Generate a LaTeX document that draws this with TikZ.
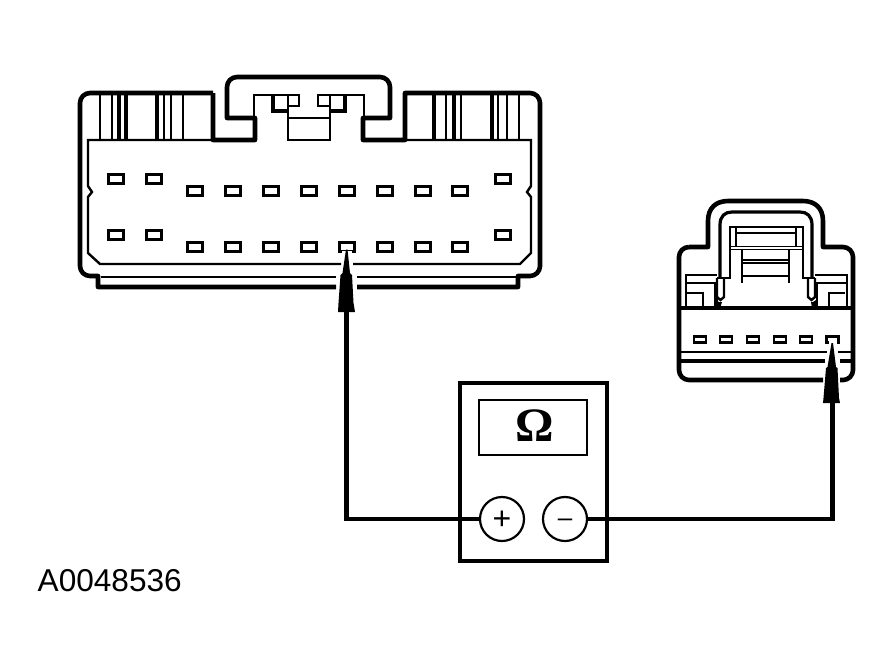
\documentclass[tikz,border=0pt]{standalone}
\usepackage{fontspec}
\setmainfont{Liberation Sans}
\newfontfamily\omegafont{Liberation Serif}
\tikzset{
  heavy/.style={line width=4.6pt,line join=round},
  medium/.style={line width=3.2pt},
  thin/.style={line width=2.4pt},
  hair/.style={line width=1.7pt},
  pinbox/.style={draw,line width=3pt,rectangle,minimum width=15.5pt,minimum height=9.5pt,inner sep=0pt,fill=white},
  tinypin/.style={draw,line width=2.6pt,rectangle,minimum width=12pt,minimum height=5.5pt,inner sep=0pt,fill=white},
  wire/.style={line width=4.4pt},
  probe/.style={fill=black,draw=none},
  dial/.style={draw,circle,line width=2.2pt,minimum size=44pt,inner sep=0pt,fill=white},
}
\begin{document}
\begin{tikzpicture}[x=1pt,y=-1pt]
\useasboundingbox (0,0) rectangle (892,667);
% ---- large connector
\draw[heavy] (213,93) -- (213,140) -- (255,140) -- (255,118) -- (227,118) -- (227,87) arc[start angle=180,end angle=270,radius=10] -- (380,77) arc[start angle=270,end angle=360,radius=10] -- (390,118) -- (363,118) -- (363,140) -- (405,140) -- (405,93) -- (530,93) arc[start angle=270,end angle=360,radius=10] -- (540,266) arc[start angle=0,end angle=90,radius=10] -- (518,276) -- (518,287) -- (357,287);
\draw[heavy] (336,287) -- (98,287) -- (98,276) -- (90,276) arc[start angle=90,end angle=180,radius=10] -- (80,103) arc[start angle=180,end angle=270,radius=10] -- (213,93);
% inner outline
\draw[thin] (213,140) -- (88,140) -- (88,186) -- (92,192) -- (88,197) -- (88,253) -- (100,264) -- (341,264);
\draw[thin] (353,264) -- (520,264) -- (531,253) -- (531,197) -- (527,192) -- (531,186) -- (531,140) -- (405,140);
\draw[thin] (101,277) -- (336,277) (357,277) -- (517,277);
% ribs
\foreach \x in {100,112,171,183,164,446,461,507,519,498}{\draw[thin] (\x,93) -- (\x,140);}
\foreach \x in {119,126,157,434,454,492}{\draw[medium] (\x,93) -- (\x,140);}
% latch
\draw[thin] (254,118) -- (254,95) -- (299,95) -- (299,106) -- (288,106);
\draw[medium] (273,95) -- (273,111) -- (288,111);
\draw[thin] (288,95) -- (288,140) -- (330,140) -- (330,95);
\draw[thin] (288,118) -- (330,118);
\draw[thin] (364,118) -- (364,95) -- (318,95) -- (318,106) -- (330,106);
\draw[medium] (345,95) -- (345,111) -- (330,111);
% pins large
\foreach \n/\x/\y in {a/116/179,b/154/179,c/116/235,d/154/235,e/503/179,f/503/235,
 g/195/191,h/233/191,i/271/191,j/309/191,k/347/191,l/385/191,m/423/191,n/460/191,
 o/195/247,p/233/247,q/271/247,r/309/247,s/347/247,t/385/247,u/423/247,v/460/247}
 {\node[pinbox] (pin\n) at (\x,\y) {};}
\draw[white,line width=3.4pt] (342,252.5) -- (352,252.5);
% ---- small connector
\draw[heavy] (689,247) -- (708,247) -- (708,221) .. controls (708,208) and (716,201) .. (728,201) -- (803,201) .. controls (815,201) and (823,208) .. (823,221) -- (823,247) -- (843,247) arc[start angle=270,end angle=360,radius=10] -- (853,370) arc[start angle=0,end angle=90,radius=10] -- (840,380);
\draw[heavy] (823,380) -- (689,380) arc[start angle=90,end angle=180,radius=10] -- (679,257) arc[start angle=180,end angle=270,radius=10];
\draw[medium] (720,278) -- (720,225) .. controls (720,216) and (725,212) .. (732,212) -- (800,212) .. controls (807,212) and (812,216) .. (812,225) -- (812,278);
\draw[thin] (717,278) -- (730,278) -- (730,227) -- (803,227) -- (803,278) -- (815,278);
\draw[hair] (736,227) -- (736,247) (796,227) -- (796,247);
\draw[thin] (736,233) -- (796,233);
\draw[hair] (730,246.5) -- (803,246.5);
\draw[hair] (730,249.5) -- (803,249.5);
\draw[thin] (742,249) -- (742,283) (789,249) -- (789,283) (742,276) -- (789,276);
\draw[hair] (742,260) -- (789,260) (742,263) -- (789,263);
% tabs
\draw[thin] (717,278) -- (717,297) -- (720.5,300) -- (724,297) -- (724,278);
\draw[thin] (808,278) -- (808,297) -- (811.5,300) -- (815,297) -- (815,278);
\fill (716,300) -- (719,302) -- (722,302) -- (720,308) -- (716,308) -- cycle;
\fill (816,300) -- (813,302) -- (811,302) -- (812,308) -- (816,308) -- cycle;
% shoulders
\draw[thin] (686,308) -- (686,275) -- (717,275) (686,283) -- (717,283);
\draw[medium] (716,283) -- (716,308);
\draw[thin] (687,293) -- (703,293) -- (703,308);
\draw[thin] (847,308) -- (847,275) -- (815,275) (847,283) -- (815,283);
\draw[thin] (817,283) -- (817,308);
\draw[thin] (845,293) -- (829,293) -- (829,308);
\draw[medium] (679,308) -- (853,308);
\draw[thin] (679,352) -- (827,352) (838,352) -- (853,352);
\draw[medium] (679,361) -- (825,361) (840,361) -- (853,361);
\foreach \n/\x in {a/700,b/726,c/753,d/780,e/806,f/832.5}
 {\node[tinypin] (tiny\n) at (\x,339.5) {};}
\draw[white,line width=3pt] (828.5,342.5) -- (836.5,342.5);
% ---- meter
\node[draw,line width=4.5pt,rectangle,minimum width=147pt,minimum height=178pt,inner sep=0pt] (meter) at (533.5,472) {};
\node[draw,line width=2.2pt,rectangle,minimum width=108pt,minimum height=55pt,inner sep=0pt,font=\omegafont\bfseries\fontsize{48}{48}\selectfont] (display) at (533,427.5) {\raisebox{-13.5pt}[0pt][0pt]{\hspace{3pt}Ω}};
% probes
\coordinate (leftfoot) at (346.5,311);
\coordinate (rightfoot) at (832.5,403);
\node[dial,font=\fontsize{32}{32}\selectfont] (plus) at (502,519) {\raisebox{-10.5pt}[0pt][0pt]{+}};
\node[dial,font=\fontsize{26}{26}\selectfont] (minus) at (565,519) {\raisebox{-7.5pt}[0pt][0pt]{–}};
\draw[wire] (leftfoot) |- (plus.west);
\draw[wire] (rightfoot) |- (minus.east);
\fill[probe] (346,249.5) -- (347.5,249.5) -- (350,273) -- (352,275) -- (353.5,303) -- (355,312) -- (338,312) -- (338.5,303) -- (340.5,275) -- (342.5,273) -- cycle;
\fill[probe] (831.5,343) -- (833,343) -- (836,367) -- (837.5,368) -- (839,398) -- (840,403) -- (823,403) -- (823.5,398) -- (826,368) -- (827.5,367) -- cycle;
\node[font=\fontsize{31.6}{31.6}\selectfont,anchor=base west,inner sep=0pt] (code) at (37.5,591) {A0048536};
\end{tikzpicture}
\end{document}
